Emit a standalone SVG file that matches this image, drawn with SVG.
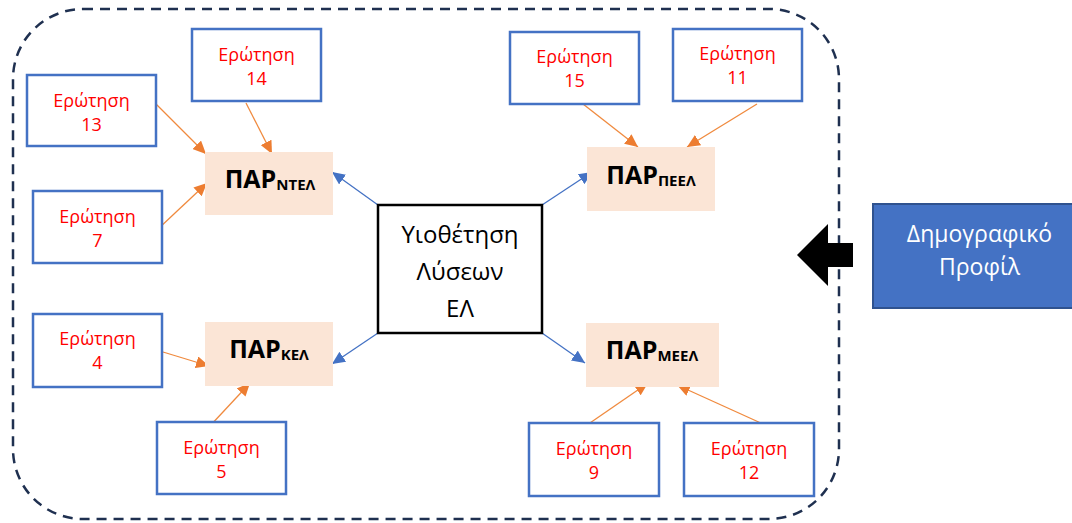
<svg xmlns="http://www.w3.org/2000/svg" width="1072" height="523" viewBox="0 0 1072 523">
<style>
.q rect{fill:#fff;stroke:#4472C4;stroke-width:2.5}
.q text{font-family:"Open Sans","Liberation Sans",sans-serif;font-size:18px;fill:#FF0000;text-anchor:middle}
.p rect{fill:#FBE5D6}
.p text{font-family:"Open Sans","Liberation Sans",sans-serif;font-weight:bold;font-size:25px;fill:#000;text-anchor:middle}
.p tspan.s{font-size:15px}
.oa{stroke:#F08A3E;stroke-width:1.3;fill:none;marker-end:url(#mo)}
.ba{stroke:#4472C4;stroke-width:1.3;fill:none;marker-end:url(#mb)}
</style>
<defs>
<marker id="mo" markerUnits="userSpaceOnUse" markerWidth="14" markerHeight="12" refX="13" refY="6" orient="auto"><path d="M0,0 L13,6 L0,12 z" fill="#ED7D31"/></marker>
<marker id="mb" markerUnits="userSpaceOnUse" markerWidth="14" markerHeight="12" refX="13" refY="6" orient="auto"><path d="M0,0 L13,6 L0,12 z" fill="#4472C4"/></marker>
</defs>
<rect width="1072" height="523" fill="#fff"/>
<g id="border"><rect x="13" y="9" width="826" height="510" rx="70" ry="70" fill="none" stroke="#1F3050" stroke-width="2.5" stroke-dasharray="10,7"/></g>

<g id="connectors">
<line class="oa" x1="155" y1="103" x2="206" y2="154"/>
<line class="oa" x1="246" y1="103" x2="272" y2="154"/>
<line class="oa" x1="158" y1="229" x2="207" y2="183"/>
<line class="oa" x1="583" y1="104" x2="638" y2="147"/>
<line class="oa" x1="757" y1="104" x2="687" y2="147"/>
<line class="oa" x1="163" y1="352" x2="209" y2="366"/>
<line class="oa" x1="209" y1="427" x2="250" y2="383"/>
<line class="oa" x1="587" y1="425" x2="648" y2="383"/>
<line class="oa" x1="763" y1="424" x2="677" y2="385"/>
<line class="ba" x1="378" y1="205" x2="332" y2="172"/>
<line class="ba" x1="542" y1="205" x2="592" y2="172"/>
<line class="ba" x1="378" y1="333" x2="332" y2="364"/>
<line class="ba" x1="542" y1="333" x2="585" y2="363"/>
</g>

<g id="q14" class="q"><rect x="192" y="29" width="129" height="72"/><text x="256.5" y="61">Ερώτηση</text><text x="256.5" y="85">14</text></g>
<g id="q13" class="q"><rect x="27" y="75" width="129" height="71"/><text x="91.5" y="107">Ερώτηση</text><text x="91.5" y="131">13</text></g>
<g id="q7" class="q"><rect x="33" y="191" width="129" height="72"/><text x="97.5" y="223">Ερώτηση</text><text x="97.5" y="247">7</text></g>
<g id="q15" class="q"><rect x="510" y="32" width="129" height="72"/><text x="574.5" y="63">Ερώτηση</text><text x="574.5" y="87">15</text></g>
<g id="q11" class="q"><rect x="673" y="29" width="129" height="72"/><text x="737.5" y="60">Ερώτηση</text><text x="737.5" y="84">11</text></g>
<g id="q4" class="q"><rect x="33" y="314" width="129" height="73"/><text x="97.5" y="345">Ερώτηση</text><text x="97.5" y="369">4</text></g>
<g id="q5" class="q"><rect x="157" y="422" width="129" height="72"/><text x="221.5" y="454">Ερώτηση</text><text x="221.5" y="478">5</text></g>
<g id="q9" class="q"><rect x="529" y="423" width="130" height="73"/><text x="594" y="455">Ερώτηση</text><text x="594" y="479">9</text></g>
<g id="q12" class="q"><rect x="684" y="423" width="130" height="73"/><text x="749" y="455">Ερώτηση</text><text x="749" y="479">12</text></g>

<g id="par-ntel" class="p"><rect x="205" y="152" width="128" height="63"/><text x="270" y="188">ΠΑΡ<tspan class="s" dy="2">ΝΤΕΛ</tspan></text></g>
<g id="par-peel" class="p"><rect x="587" y="147" width="128" height="64"/><text x="651" y="184">ΠΑΡ<tspan class="s" dy="2">ΠΕΕΛ</tspan></text></g>
<g id="par-kel" class="p"><rect x="205" y="322" width="128" height="64"/><text x="269" y="358">ΠΑΡ<tspan class="s" dy="2">ΚΕΛ</tspan></text></g>
<g id="par-meel" class="p"><rect x="586" y="323" width="133" height="64"/><text x="652" y="359">ΠΑΡ<tspan class="s" dy="2">ΜΕΕΛ</tspan></text></g>

<g id="center"><rect x="378" y="205" width="164" height="128" fill="#fff" stroke="#000" stroke-width="2.5"/>
<g font-family="Open Sans,Liberation Sans,sans-serif" font-size="24" fill="#000" text-anchor="middle"><text x="460" y="243">Υιοθέτηση</text><text x="460" y="280">Λύσεων</text><text x="460" y="317">ΕΛ</text></g></g>

<g id="demographic"><rect x="873" y="204" width="215" height="104" fill="#4472C4" stroke="#2F528F" stroke-width="2"/>
<g font-family="Open Sans,Liberation Sans,sans-serif" font-size="23" fill="#fff" text-anchor="middle"><text x="979.5" y="242">Δημογραφικό</text><text x="979.5" y="275">Προφίλ</text></g></g>

<g id="big-arrow"><polygon points="797,255 828,224 828,243 853,243 853,267 828,267 828,286" fill="#000"/></g>
</svg>
